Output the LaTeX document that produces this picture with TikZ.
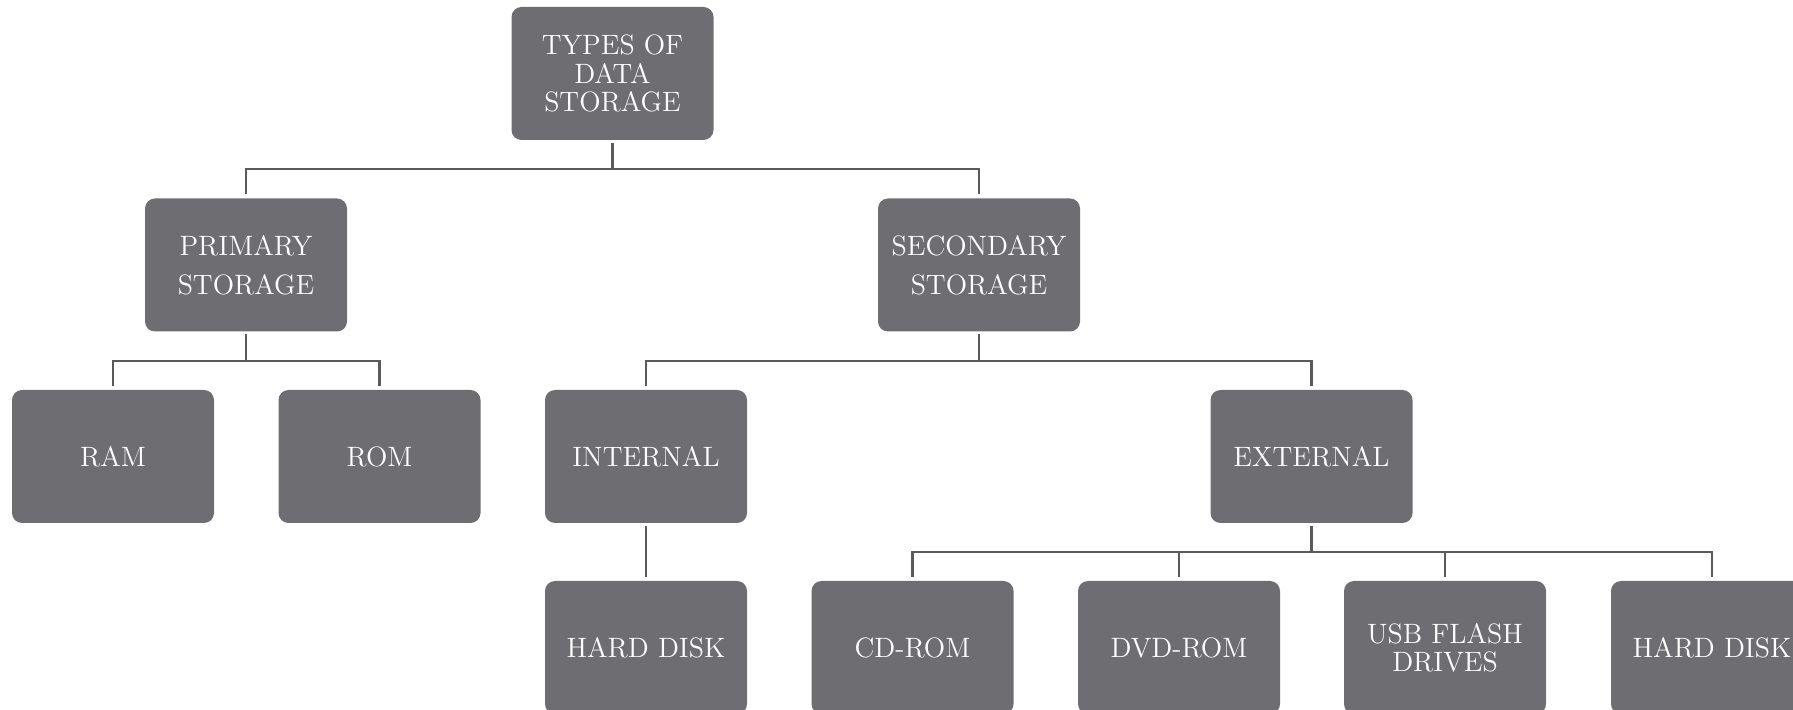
\documentclass[tikz,border=0pt]{standalone}
\begin{document}
\begin{tikzpicture}[x=0.5pt,y=-0.5pt,
  box/.style={draw=none,fill=boxgray,rounded corners=5pt,minimum width=101pt,minimum height=66.5pt,
    text=white,align=center,font=\fontsize{14}{14.2}\selectfont,inner sep=0pt},
  conn/.style={draw=linegray,line width=1.4pt,shorten <=1.2pt,shorten >=1.8pt}]
\definecolor{boxgray}{HTML}{6E6D72}
\definecolor{linegray}{HTML}{5A595D}
\useasboundingbox (0,0) rectangle (1793,710);
\coordinate (b1) at (0,169);
\coordinate (b2) at (0,361);
\coordinate (b3) at (0,552);
\node[box] (top) at (612.5,73.5) {TYPES OF\\DATA\\STORAGE};
\node[box] (pri) at (246,265) {PRIMARY\\[5.3pt]STORAGE};
\node[box] (sec) at (979,265) {SECONDARY\\[5.3pt]STORAGE};
\node[box] (ram) at (113,456.5) {RAM};
\node[box] (rom) at (379.5,456.5) {ROM};
\node[box] (int) at (646,456.5) {INTERNAL};
\node[box] (ext) at (1311.5,456.5) {EXTERNAL};
\node[box] (hd1) at (646,647.5) {HARD DISK};
\node[box] (cd) at (912.5,647.5) {CD-ROM};
\node[box] (dvd) at (1179,647.5) {DVD-ROM};
\node[box] (usb) at (1445,647.5) {USB FLASH\\DRIVES};
\node[box] (hd2) at (1712,647.5) {HARD DISK};
\foreach \p/\c/\b in {top/pri/b1,top/sec/b1,pri/ram/b2,pri/rom/b2,sec/int/b2,sec/ext/b2,ext/cd/b3,ext/dvd/b3,ext/usb/b3,ext/hd2/b3}
  \draw[conn,rounded corners=0pt] (\p.south) -- (\p.south |- \b) -| (\c.north);
\draw[conn] (int.south) -- (hd1.north);
\end{tikzpicture}
\end{document}
